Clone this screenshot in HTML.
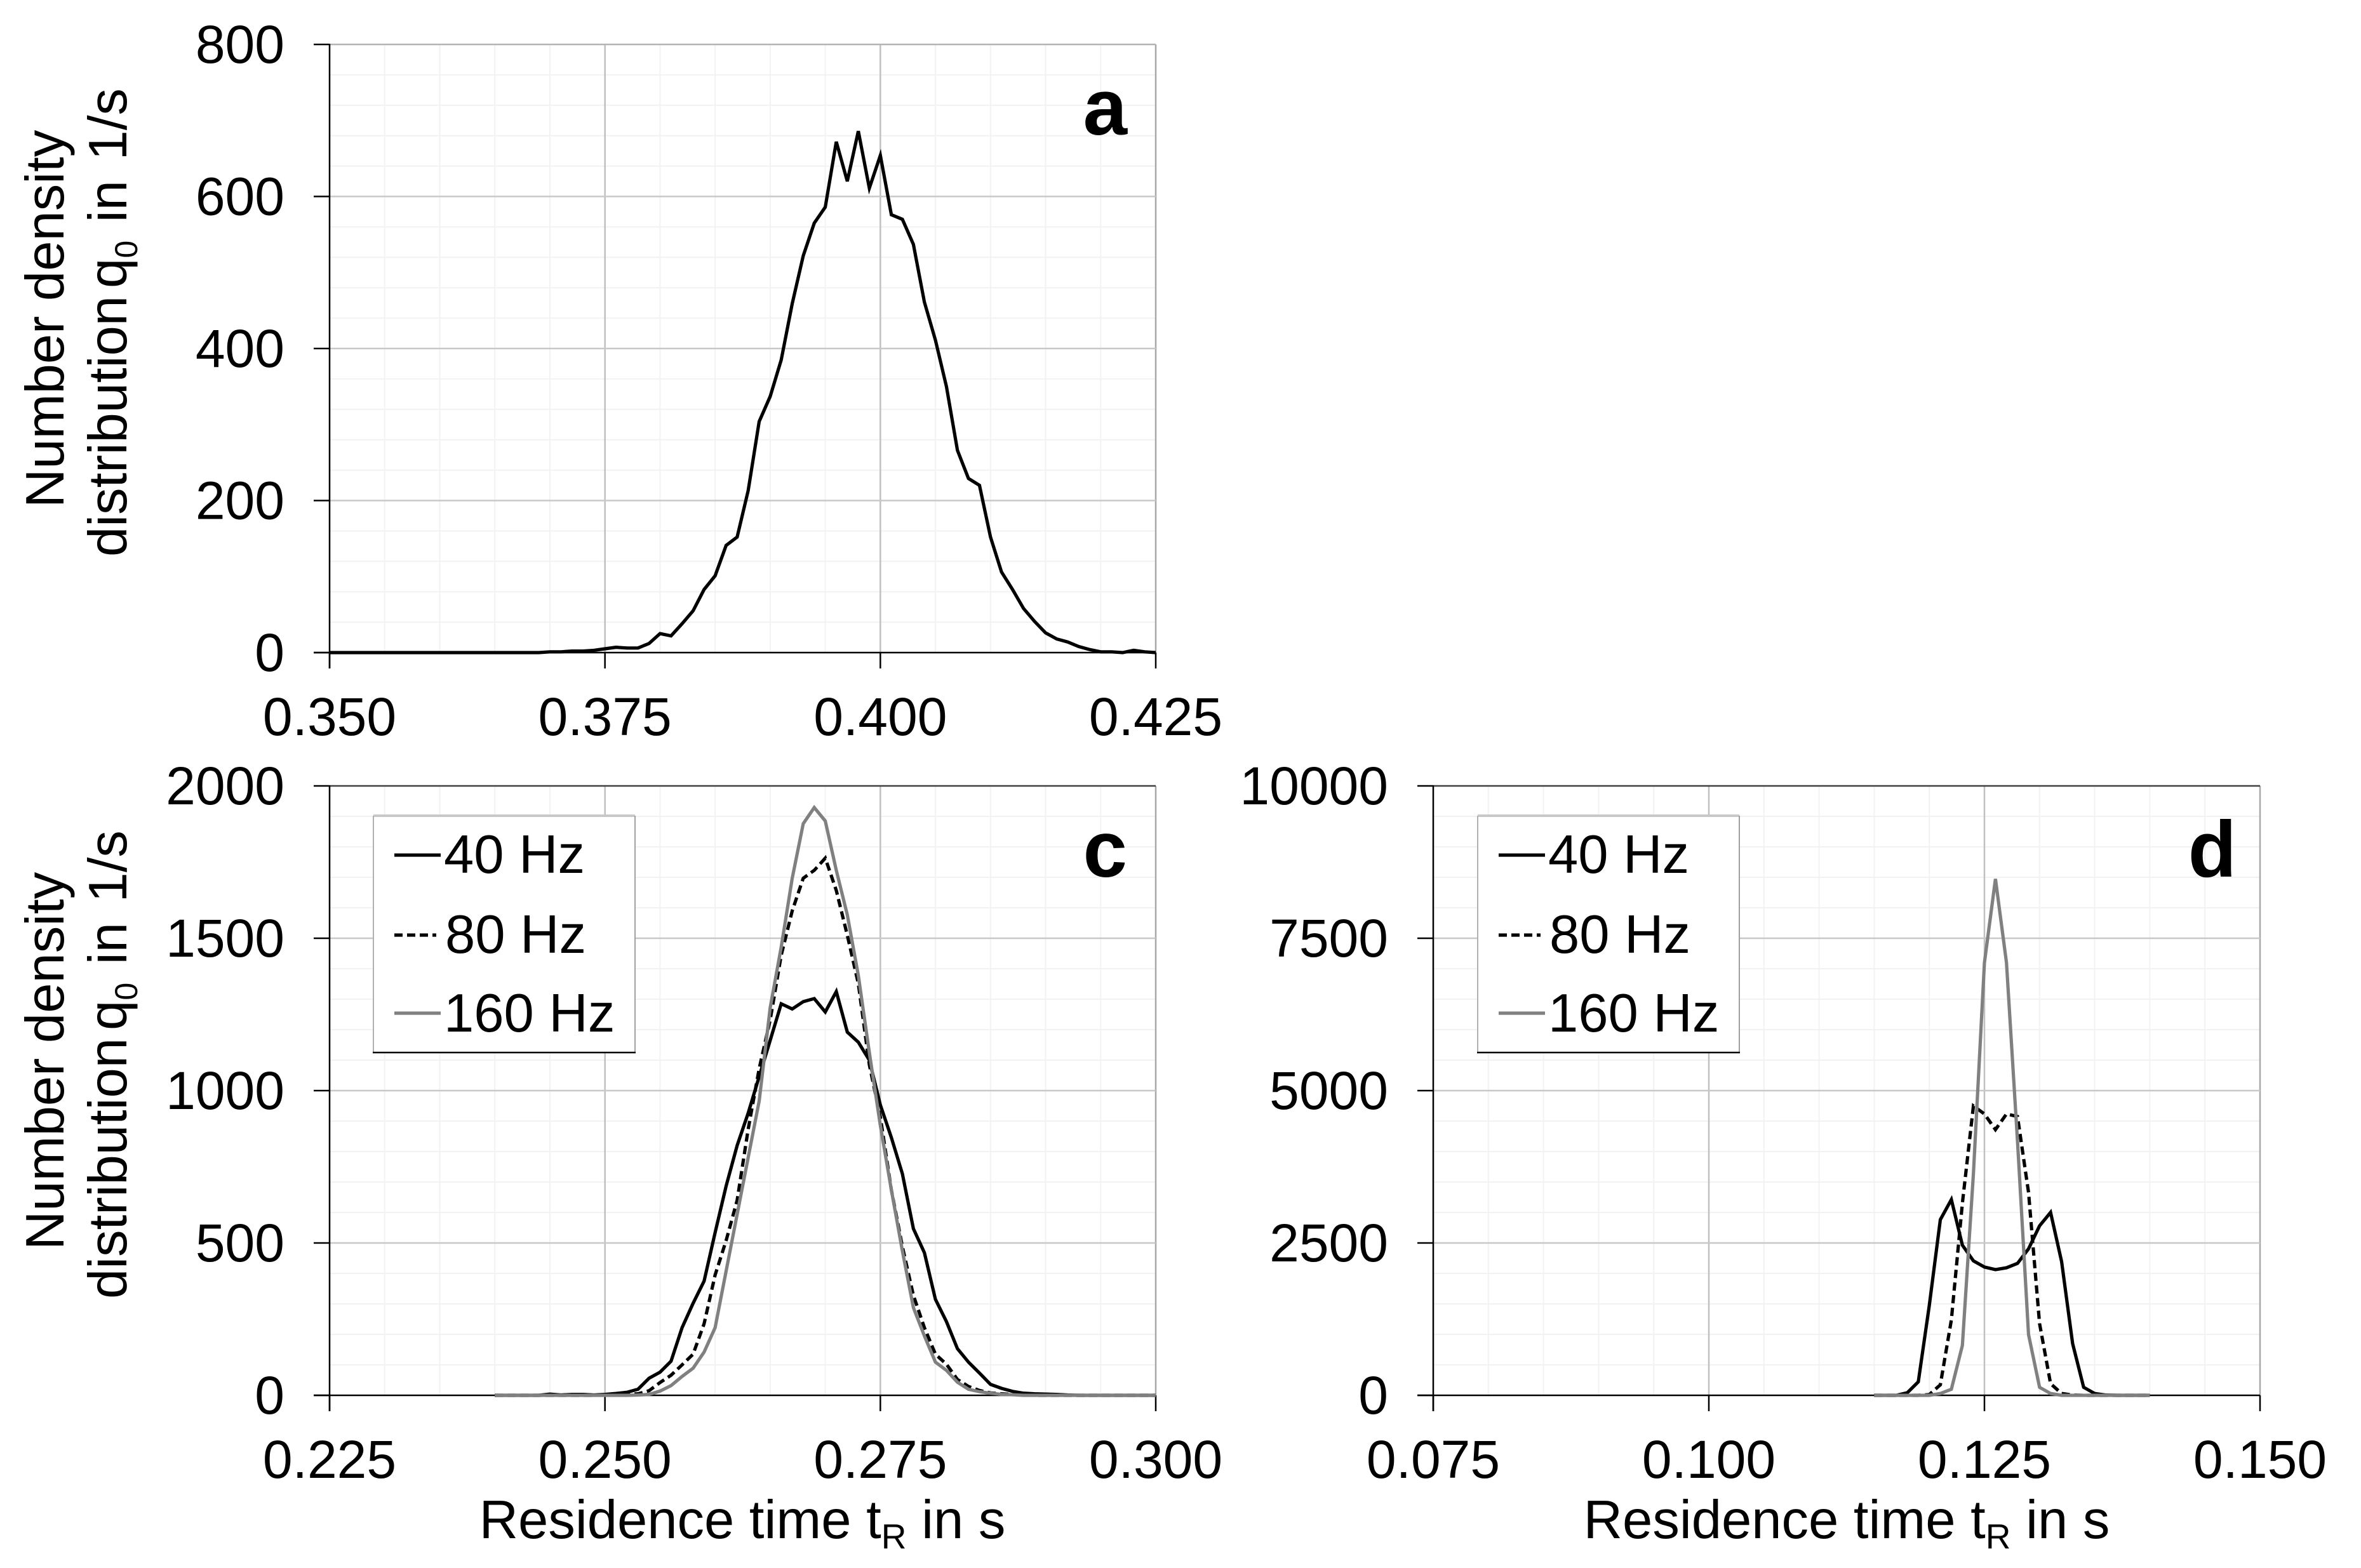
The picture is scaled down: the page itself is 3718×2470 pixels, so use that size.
<!DOCTYPE html>
<html lang="en">
<head>
<meta charset="utf-8">
<title>Residence time distributions</title>
<style>
html,body{margin:0;padding:0;background:#fff}
svg{display:block}
text{font-family:"Liberation Sans",Arial,sans-serif;fill:#000}
</style>
</head>
<body>
<svg id="figure" xmlns="http://www.w3.org/2000/svg" width="3718" height="2470" viewBox="0 0 3718 2470">
  <rect x="0" y="0" width="3718" height="2470" fill="#fff"/>
  <g id="panel-a"></g>
  <g id="panel-c"></g>
  <g id="panel-d"></g>

  <g font-size="85">
    <text transform="translate(100,800) rotate(-90)">Number density</text>
    <text transform="translate(199,877) rotate(-90)">distribution<tspan dx="12">q</tspan><tspan font-size="50" dy="17">0</tspan><tspan dy="-17" dx="5"> in </tspan><tspan dx="8">1/s</tspan></text>
  </g>
  <g font-size="85">
    <text transform="translate(100,1969) rotate(-90)">Number density</text>
    <text transform="translate(199,2046) rotate(-90)">distribution<tspan dx="12">q</tspan><tspan font-size="50" dy="17">0</tspan><tspan dy="-17" dx="5"> in </tspan><tspan dx="8">1/s</tspan></text>
  </g>

  <text x="1169" y="2423" font-size="85" text-anchor="middle">Residence time t<tspan font-size="55" dy="16">R</tspan><tspan dy="-16"> in s</tspan></text>
  <text x="2908" y="2423" font-size="85" text-anchor="middle">Residence time t<tspan font-size="55" dy="16">R</tspan><tspan dy="-16"> in s</tspan></text>

  <text x="1775" y="212" font-size="125" font-weight="bold" text-anchor="end">a</text>
  <text x="1775" y="1381" font-size="125" font-weight="bold" text-anchor="end">c</text>
  <text x="3522" y="1381" font-size="125" font-weight="bold" text-anchor="end">d</text>
</svg>

<script>
// ---------- chart data ----------
const aXTickLabels = ['0.350', '0.375', '0.400', '0.425'];
const aYTickLabels = ['0', '200', '400', '600', '800'];
const aTimeStart = 0.350;
const aTimeStep = 0.001;
const aSingle = [0,0,0,0,0,0,0,0,0,0,0,0,0,0,0,0,0,0,0,0,
  1,1,2,2,3,5,7,6,6,12,25,22,38,55,83,101,141,152,213,304,337,385,459,522,565,586,
  672,620,686,611,654,576,570,537,461,411,350,266,229,220,152,106,83,58,41,26,18,14,8,4,1,1,0,3,1,0];

const cXTickLabels = ['0.225', '0.250', '0.275', '0.300'];
const cYTickLabels = ['0', '500', '1000', '1500', '2000'];
const cTimeStart = 0.240;
const cTimeStep = 0.001;
const c40Hz = [0,0,0,0,0,4,1,3,3,1,3,6,10,20,56,76,112,222,302,375,534,687,820,926,1046,1165,1285,1268,1292,1302,1258,1325,1192,1159,1100,953,846,727,547,468,315,242,153,109,73,36,23,13,7,5,4,3,1,0,0,0,0,0,0,0,0];
const c80Hz = [0,0,0,0,0,0,0,0,0,0,1,2,3,5,15,42,66,100,135,235,395,508,640,873,1072,1232,1444,1590,1697,1723,1763,1657,1510,1351,1085,913,674,488,328,222,135,102,52,29,16,8,5,3,2,0,0,0,0,0,0,0,0,0,0,0,0];
const c160Hz = [0,0,0,0,0,0,0,0,0,0,0,0,0,1,3,14,32,62,89,142,222,408,594,780,966,1272,1471,1697,1876,1929,1885,1723,1577,1378,1125,886,674,474,288,195,109,82,43,20,12,7,3,2,0,0,0,0,0,0,0,0,0,0,0,0,0];

const dXTickLabels = ['0.075', '0.100', '0.125', '0.150'];
const dYTickLabels = ['0', '2500', '5000', '7500', '10000'];
const dTimeStart = 0.115;
const dTimeStep = 0.001;
const d40Hz = [0,0,0,42,221,1477,2883,3212,2464,2207,2105,2063,2093,2165,2404,2781,3002,2195,849,132,30,5,0,0,0,0];
const d80Hz = [0,0,0,0,0,12,173,1238,3152,4749,4617,4360,4617,4575,3331,1178,191,30,5,0,0,0,0,0,0,0];
const d160Hz = [0,0,0,0,0,0,30,100,819,3636,7099,8474,7099,4169,999,132,30,0,0,0,0,0,0,0,0,0];

const legendLabels = ['40 Hz', '80 Hz', '160 Hz'];

// ---------- drawing ----------
const SVG_NS = 'http://www.w3.org/2000/svg';

function makeLine(parent, x1, y1, x2, y2, stroke, width) {
  const el = document.createElementNS(SVG_NS, 'line');
  el.setAttribute('x1', x1);
  el.setAttribute('y1', y1);
  el.setAttribute('x2', x2);
  el.setAttribute('y2', y2);
  el.setAttribute('stroke', stroke);
  el.setAttribute('stroke-width', width);
  parent.appendChild(el);
  return el;
}

function drawGrid(parent, box, xMajor, yMajor) {
  const xScale = v => box.left + (v - box.xMin) / (box.xMax - box.xMin) * (box.right - box.left);
  const yScale = v => box.bottom - (v - box.yMin) / (box.yMax - box.yMin) * (box.bottom - box.top);
  const minorDiv = 5;
  for (let i = 0; i < xMajor.length - 1; i++) {
    for (let k = 1; k < minorDiv; k++) {
      const v = xMajor[i] + (xMajor[i + 1] - xMajor[i]) * k / minorDiv;
      const el = makeLine(parent, xScale(v), box.top, xScale(v), box.bottom, '#f2f2f2', 2);
      
      
    }
  }
  for (let i = 0; i < yMajor.length - 1; i++) {
    for (let k = 1; k < minorDiv; k++) {
      const v = yMajor[i] + (yMajor[i + 1] - yMajor[i]) * k / minorDiv;
      const el = makeLine(parent, box.left, yScale(v), box.right, yScale(v), '#f2f2f2', 2);
      
      
    }
  }
  xMajor.forEach((v, i) => {
    if (i === 0) return;
    const color = i === xMajor.length - 1 ? '#a8a8a8' : '#c0c0c0';
    const el = makeLine(parent, xScale(v), box.top, xScale(v), box.bottom, color, 2.5);
    
    
  });
  yMajor.forEach((v, i) => {
    if (i === 0) return;
    const color = i === yMajor.length - 1 ? box.topColor : '#c8c8c8';
    const el = makeLine(parent, box.left, yScale(v), box.right, yScale(v), color, 2.5);
    
    
  });
}

function drawAxes(parent, box, xLabels, yLabels) {
  const xScale = v => box.left + (v - box.xMin) / (box.xMax - box.xMin) * (box.right - box.left);
  const yScale = v => box.bottom - (v - box.yMin) / (box.yMax - box.yMin) * (box.bottom - box.top);
  const yAxis = makeLine(parent, box.left, box.top - 1, box.left, box.bottom + 25, '#000', 2.5);
  
  
  const xAxis = makeLine(parent, box.left - 25, box.bottom, box.right, box.bottom, '#000', 2.5);
  
  
  xLabels.forEach(label => {
    const x = xScale(parseFloat(label));
    const tick = makeLine(parent, x, box.bottom, x, box.bottom + 25, '#000', 2.5);
    
    
    const t = document.createElementNS(SVG_NS, 'text');
    
    
    t.setAttribute('x', x);
    t.setAttribute('y', box.bottom + 130);
    t.setAttribute('font-size', 84);
    t.setAttribute('text-anchor', 'middle');
    t.textContent = label;
    parent.appendChild(t);
  });
  yLabels.forEach(label => {
    const y = yScale(parseFloat(label));
    const tick = makeLine(parent, box.left - 25, y, box.left, y, box.tickColor, 2.5);
    
    
    const t = document.createElementNS(SVG_NS, 'text');
    
    
    t.setAttribute('x', box.left - 71);
    t.setAttribute('y', y + 29);
    t.setAttribute('font-size', 84);
    t.setAttribute('text-anchor', 'end');
    t.textContent = label;
    parent.appendChild(t);
  });
}

function drawSeries(parent, box, start, step, values, stroke, dash, seriesName) {
  const xScale = v => box.left + (v - box.xMin) / (box.xMax - box.xMin) * (box.right - box.left);
  const yScale = v => box.bottom - (v - box.yMin) / (box.yMax - box.yMin) * (box.bottom - box.top);
  const d = values.map((v, i) => (i ? 'L' : 'M') + xScale(start + i * step).toFixed(2) + ' ' + yScale(v).toFixed(2)).join('');
  const path = document.createElementNS(SVG_NS, 'path');
  
  
  path.setAttribute('d', d);
  path.setAttribute('fill', 'none');
  path.setAttribute('stroke', stroke);
  path.setAttribute('stroke-width', 5.2);
  path.setAttribute('stroke-linejoin', 'miter');
  if (dash) path.setAttribute('stroke-dasharray', dash);
  parent.appendChild(path);
}

function drawLegend(parent, left) {
  const group = document.createElementNS(SVG_NS, 'g');
  
  
  parent.appendChild(group);
  const width = 412, top = 1285, bottom = 1658;
  const bg = document.createElementNS(SVG_NS, 'rect');
  
  
  bg.setAttribute('x', left);
  bg.setAttribute('y', top);
  bg.setAttribute('width', width);
  bg.setAttribute('height', bottom - top);
  bg.setAttribute('fill', '#fff');
  group.appendChild(bg);
  makeLine(group, left, top, left + width, top, '#c8c8c8', 4);
  makeLine(group, left, top, left, bottom, '#b0b0b0', 2);
  makeLine(group, left + width, top, left + width, bottom, '#a0a0a0', 2);
  makeLine(group, left - 1, bottom, left + width + 1, bottom, '#000', 2.5);
  const lineY = [1347, 1473, 1596];
  const textY = [1375, 1501, 1625];
  const textX = [111, 113, 111];
  const lineEnd = [106, 99, 106];
  const strokes = ['#000', '#000', '#808080'];
  const dashes = [null, '13 7', null];
  legendLabels.forEach((label, i) => {
    const key = makeLine(group, left + 33, lineY[i], left + lineEnd[i], lineY[i], strokes[i], 5.2);
    
    
    if (dashes[i]) key.setAttribute('stroke-dasharray', dashes[i]);
    const t = document.createElementNS(SVG_NS, 'text');
    
    
    t.setAttribute('x', left + textX[i]);
    t.setAttribute('y', textY[i]);
    t.setAttribute('font-size', 85);
    t.textContent = label;
    group.appendChild(t);
  });
}

const boxA = {left: 519, right: 1820, top: 70, bottom: 1028, xMin: parseFloat(aXTickLabels[0]), xMax: parseFloat(aXTickLabels[3]), yMin: 0, yMax: parseFloat(aYTickLabels[4]), topColor: '#b4b4b4', tickColor: '#000'};
const boxC = {left: 519, right: 1820, top: 1238, bottom: 2198, xMin: parseFloat(cXTickLabels[0]), xMax: parseFloat(cXTickLabels[3]), yMin: 0, yMax: parseFloat(cYTickLabels[4]), topColor: '#404040', tickColor: '#000'};
const boxD = {left: 2257, right: 3559, top: 1238, bottom: 2198, xMin: parseFloat(dXTickLabels[0]), xMax: parseFloat(dXTickLabels[3]), yMin: 0, yMax: parseFloat(dYTickLabels[4]), topColor: '#404040', tickColor: '#000'};

const gA = document.getElementById('panel-a');
drawGrid(gA, boxA, aXTickLabels.map(Number), aYTickLabels.map(Number));
drawAxes(gA, boxA, aXTickLabels, aYTickLabels);
drawSeries(gA, boxA, aTimeStart, aTimeStep, aSingle, '#000', null, 'a');

const gC = document.getElementById('panel-c');
drawGrid(gC, boxC, cXTickLabels.map(Number), cYTickLabels.map(Number));
drawAxes(gC, boxC, cXTickLabels, cYTickLabels);
drawSeries(gC, boxC, cTimeStart, cTimeStep, c40Hz, '#000', null, '40-hz');
drawSeries(gC, boxC, cTimeStart, cTimeStep, c80Hz, '#000', '13 7', '80-hz');
drawSeries(gC, boxC, cTimeStart, cTimeStep, c160Hz, '#808080', null, '160-hz');
drawLegend(gC, 588);

const gD = document.getElementById('panel-d');
drawGrid(gD, boxD, dXTickLabels.map(Number), dYTickLabels.map(Number));
drawAxes(gD, boxD, dXTickLabels, dYTickLabels);
drawSeries(gD, boxD, dTimeStart, dTimeStep, d40Hz, '#000', null, '40-hz');
drawSeries(gD, boxD, dTimeStart, dTimeStep, d80Hz, '#000', '13 7', '80-hz');
drawSeries(gD, boxD, dTimeStart, dTimeStep, d160Hz, '#808080', null, '160-hz');
drawLegend(gD, 2327);
</script>
</body>
</html>
